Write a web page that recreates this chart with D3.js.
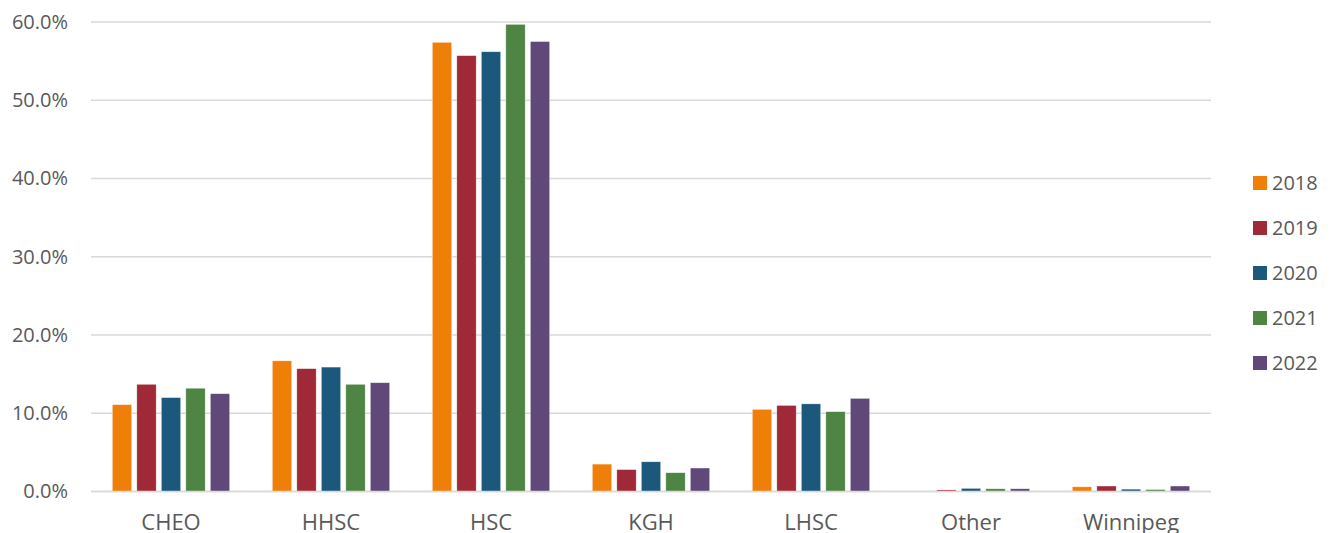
<!DOCTYPE html>
<html>
<head>
<meta charset="utf-8">
<script src="https://cdn.jsdelivr.net/npm/d3@7"></script>
<style>
  html, body { margin: 0; padding: 0; background: #fff; }
  #chart { width: 1333px; height: 533px; overflow: hidden; }
  text { font-family: "Open Sans", "Noto Sans", sans-serif; fill: #595959; }
</style>
</head>
<body>
<div id="chart"></div>
<script>
// data
var categories = ["CHEO", "HHSC", "HSC", "KGH", "LHSC", "Other", "Winnipeg"];
var years = ["2018", "2019", "2020", "2021", "2022"];
var colors = ["#F07F09", "#9F2936", "#1B587C", "#4E8542", "#604878"];
var yTicks = [0, 0.1, 0.2, 0.3, 0.4, 0.5, 0.6];

var v2018 = [0.111, 0.167, 0.574, 0.035, 0.105, 0.000, 0.006];
var v2019 = [0.137, 0.157, 0.557, 0.028, 0.110, 0.002, 0.007];
var v2020 = [0.120, 0.159, 0.562, 0.038, 0.112, 0.004, 0.003];
var v2021 = [0.132, 0.137, 0.597, 0.024, 0.102, 0.0035, 0.0025];
var v2022 = [0.125, 0.139, 0.575, 0.030, 0.119, 0.0035, 0.007];
var series = [v2018, v2019, v2020, v2021, v2022];

var width = 1333, height = 533;
var margin = { top: 22, left: 91, right: 122, bottom: 41.5 };

var svg = d3.select("#chart")
  .append("svg")
  .attr("width", width)
  .attr("height", height);

var x0 = d3.scaleBand()
  .domain(categories)
  .range([margin.left, width - margin.right]);

var x1 = d3.scaleBand()
  .domain(years)
  .range([0, x0.bandwidth()])
  .paddingInner(0.21)
  .paddingOuter(0.87);

var y = d3.scaleLinear()
  .domain([0, 0.6])
  .range([height - margin.bottom, margin.top]);

// gridlines
svg.append("g")
  .selectAll("line")
  .data(yTicks)
  .join("line")
    .attr("x1", margin.left)
    .attr("x2", width - margin.right)
    .attr("y1", function(d) { return y(d); })
    .attr("y2", function(d) { return y(d); })
    .style("stroke", "#D9D9D9")
    .style("stroke-width", "1.4px");

// y labels
var yAxis = d3.axisLeft(y)
  .tickValues(yTicks)
  .tickFormat(d3.format(".1%"))
  .tickSize(0)
  .tickPadding(23);

svg.append("g")
  .attr("transform", "translate(" + margin.left + ",0)")
  .call(yAxis)
  .call(function(g) { g.select(".domain").remove(); })
  .selectAll("text")
    .style("font-size", "20px")
    .style("fill", "#595959");

// bars
var rows = [];
categories.forEach(function(c, i) {
  years.forEach(function(yr, j) {
    rows.push({ cat: c, year: yr, value: series[j][i], color: colors[j] });
  });
});

svg.append("g")
  .selectAll("rect")
  .data(rows.filter(function(d) { return d.value > 0; }))
  .join("rect")
    .attr("x", function(d) { return x0(d.cat) + x1(d.year); })
    .attr("width", x1.bandwidth())
    .attr("y", function(d) { return y(d.value); })
    .attr("height", function(d) { return y(0) - y(d.value); })
    .style("fill", function(d) { return d.color; })
    .style("stroke", "#ffffff")
    .style("stroke-width", "0.6px")
    .style("stroke-opacity", 0.6);

// x axis line redrawn on top
svg.append("line")
  .attr("x1", margin.left).attr("x2", width - margin.right)
  .attr("y1", y(0)).attr("y2", y(0))
  .style("stroke", "#D9D9D9")
  .style("stroke-width", "1.4px");

// x labels
var xAxis = d3.axisBottom(x0).tickSize(0).tickPadding(23);
svg.append("g")
  .attr("transform", "translate(0," + y(0) + ")")
  .call(xAxis)
  .call(function(g) { g.select(".domain").remove(); })
  .selectAll("text")
    .style("font-size", "22px")
    .style("fill", "#595959");

// legend
var legend = svg.append("g");
years.forEach(function(yr, j) {
  var ly = 183 + j * 45;
  legend.append("rect")
    .attr("x", 1253).attr("y", ly - 7)
    .attr("width", 14).attr("height", 14)
    .style("fill", colors[j]);
  legend.append("text")
    .attr("x", 1272).attr("y", ly)
    .attr("dy", "0.35em")
    .style("font-size", "20px")
    .text(yr);
});
</script>
</body>
</html>
